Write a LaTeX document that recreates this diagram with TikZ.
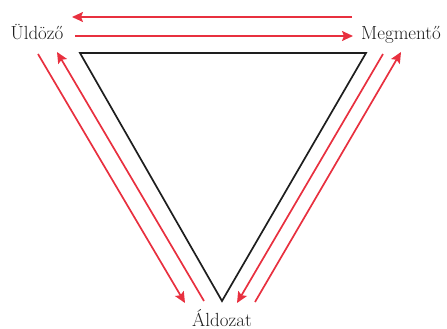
\documentclass[tikz,border=0pt]{standalone}
\usepackage{fontspec}
\setmainfont{Latin Modern Roman}
\usetikzlibrary{arrows.meta}
\definecolor{arrred}{HTML}{E8303F}
\definecolor{tri}{HTML}{1E1E1E}
\begin{document}
\begin{tikzpicture}[x=1pt,y=-1pt,
  redarrow/.style={draw=arrred,line width=1.7pt,-{Stealth[length=11pt,width=10pt,inset=2pt]}},
  lbl/.style={inner sep=0pt,anchor=base,font=\fontsize{19}{22}\selectfont,text=tri}]
\useasboundingbox (0,0) rectangle (447,329);
\node[lbl] (ul) at (37,40) {Üldöző};
\node[lbl] (me) at (401,40) {Megmentő};
\node[lbl] (al) at (222,326) {Áldozat};
\coordinate (t1) at (80,53);
\coordinate (t2) at (366,53);
\coordinate (t3) at (222,301);
\draw[tri,line width=1.7pt,line join=miter] (t1) -- (t2) -- (t3) -- cycle;
% top arrows
\coordinate (a1s) at (352,17); \coordinate (a1e) at (72,17);
\coordinate (a2s) at (75,36); \coordinate (a2e) at (353,36);
\draw[redarrow] (a1s) -- (a1e);
\draw[redarrow] (a2s) -- (a2e);
% left pair
\coordinate (l1s) at (38,54); \coordinate (l1e) at (185,303);
\coordinate (l2s) at (204,301); \coordinate (l2e) at (57,52);
\draw[redarrow] (l1s) -- (l1e);
\draw[redarrow] (l2s) -- (l2e);
% right pair
\coordinate (r1s) at (383,54); \coordinate (r1e) at (237,303);
\coordinate (r2s) at (255,302); \coordinate (r2e) at (401,52);
\draw[redarrow] (r1s) -- (r1e);
\draw[redarrow] (r2s) -- (r2e);
\end{tikzpicture}
\end{document}
